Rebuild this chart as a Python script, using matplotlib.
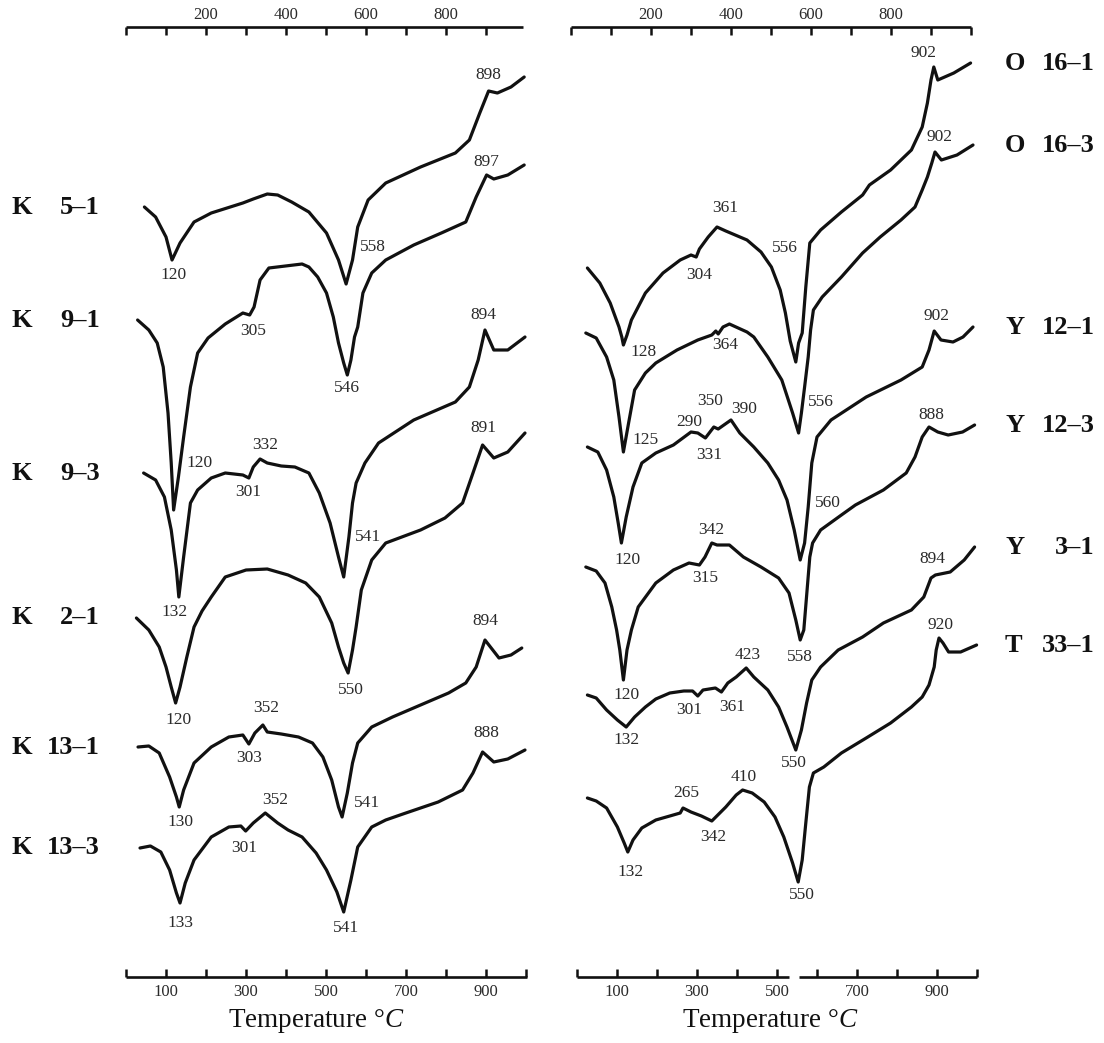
import matplotlib
matplotlib.use("Agg")
import matplotlib.pyplot as plt
from matplotlib.transforms import blended_transform_factory

plt.rcParams['font.family'] = ['Liberation Serif', 'DejaVu Serif']
plt.rcParams['mathtext.fontset'] = 'custom'
plt.rcParams['mathtext.rm'] = 'Liberation Serif'
plt.rcParams['mathtext.it'] = 'Liberation Serif:italic'

# ---------------- data (temperature in deg C, DTA signal in arbitrary units) ----------------
left_letters = ["K", "K", "K", "K", "K", "K"]
left_numbers = ["5–1", "9–1", "9–3", "2–1", "13–1", "13–3"]
right_letters = ["O", "O", "Y", "Y", "Y", "T"]
right_numbers = ["16–1", "16–3", "12–1", "12–3", "3–1", "33–1"]

K51_T = [46, 74, 100, 115, 135, 170, 213, 292, 318, 353, 379, 414, 457, 501, 531, 550, 566, 579, 605, 649, 736, 823, 858, 884, 906, 928, 962, 995]
K51_S = [770, 760, 740, 717, 734, 755, 764, 774, 778, 783, 782, 775, 765, 744, 717, 693, 717, 750, 777, 794, 810, 824, 837, 864, 886, 884, 890, 900]

K91_T = [29, 57, 78, 93, 105, 113, 119, 131, 144, 161, 179, 205, 248, 292, 309, 320, 335, 357, 440, 457, 479, 501, 518, 531, 544, 553, 562, 571, 579, 592, 614, 649, 719, 788, 849, 875, 901, 919, 954, 995]
K91_S = [657, 647, 634, 610, 564, 514, 467, 500, 540, 590, 624, 639, 653, 664, 662, 670, 697, 709, 713, 710, 700, 684, 660, 634, 614, 602, 617, 640, 650, 684, 704, 717, 732, 744, 755, 780, 802, 798, 802, 812]

K93_T = [44, 74, 96, 113, 126, 132, 144, 161, 179, 213, 248, 292, 307, 318, 335, 353, 388, 422, 457, 483, 510, 531, 544, 557, 566, 575, 597, 631, 719, 823, 858, 880, 897, 919, 954, 997]
K93_S = [504, 497, 480, 447, 407, 380, 420, 474, 487, 499, 504, 502, 499, 510, 518, 514, 511, 510, 504, 484, 454, 420, 400, 440, 474, 494, 514, 534, 557, 575, 590, 617, 647, 627, 627, 640]

K21_T = [26, 57, 83, 100, 113, 124, 135, 152, 170, 190, 213, 248, 300, 353, 405, 449, 483, 514, 531, 544, 555, 566, 575, 588, 614, 649, 736, 797, 841, 867, 891, 919, 954, 997]
K21_S = [359, 347, 330, 310, 290, 274, 290, 320, 350, 366, 380, 400, 407, 408, 402, 394, 380, 354, 330, 314, 304, 327, 350, 387, 417, 434, 447, 459, 474, 504, 532, 519, 525, 544]

K131_T = [30, 57, 83, 109, 126, 133, 144, 170, 213, 257, 292, 307, 322, 342, 353, 388, 431, 466, 492, 514, 531, 540, 553, 566, 579, 614, 666, 736, 806, 849, 875, 897, 932, 962, 989]
K131_S = [230, 231, 224, 200, 180, 170, 187, 214, 230, 240, 242, 233, 244, 252, 245, 243, 240, 234, 220, 197, 170, 160, 184, 214, 234, 250, 260, 272, 284, 294, 310, 337, 319, 322, 329]

K133_T = [35, 61, 87, 109, 126, 135, 148, 170, 213, 257, 287, 299, 318, 348, 379, 405, 440, 475, 501, 527, 544, 562, 579, 614, 649, 692, 780, 841, 867, 891, 919, 954, 997]
K133_S = [129, 131, 125, 107, 84, 74, 94, 117, 140, 150, 151, 146, 154, 164, 154, 147, 140, 124, 107, 85, 65, 97, 130, 150, 157, 163, 175, 187, 204, 225, 215, 218, 227]

O161_T = [41, 72, 98, 120, 127, 131, 140, 151, 186, 230, 273, 300, 313, 321, 343, 365, 387, 440, 475, 501, 523, 536, 548, 562, 569, 578, 587, 597, 624, 676, 729, 746, 799, 851, 878, 891, 900, 907, 917, 957, 999]
O161_S = [709, 694, 674, 650, 640, 632, 642, 657, 684, 704, 717, 722, 720, 728, 740, 750, 746, 737, 725, 710, 687, 664, 636, 615, 634, 644, 690, 734, 747, 765, 782, 792, 807, 827, 850, 874, 897, 910, 897, 904, 914]

O163_T = [37, 63, 89, 107, 120, 131, 144, 159, 186, 212, 265, 317, 352, 362, 368, 380, 396, 440, 457, 492, 527, 554, 569, 576, 584, 593, 599, 606, 628, 676, 729, 773, 825, 860, 878, 891, 902, 910, 926, 965, 1005]
O163_S = [644, 639, 620, 597, 560, 525, 554, 587, 604, 614, 627, 637, 642, 646, 643, 650, 653, 645, 640, 620, 597, 564, 544, 564, 590, 620, 647, 667, 680, 700, 724, 740, 757, 770, 787, 800, 814, 825, 817, 822, 832]

Y121_T = [41, 67, 89, 107, 118, 126, 138, 155, 177, 212, 256, 300, 317, 336, 357, 368, 400, 422, 457, 492, 519, 540, 558, 573, 584, 593, 602, 615, 650, 738, 825, 878, 895, 908, 925, 955, 980, 1005]
Y121_S = [530, 525, 507, 480, 454, 434, 460, 490, 514, 524, 532, 545, 544, 539, 550, 548, 557, 544, 530, 514, 497, 477, 447, 417, 434, 470, 514, 540, 557, 580, 597, 610, 627, 646, 637, 635, 640, 650]

Y123_T = [37, 63, 85, 102, 114, 122, 131, 140, 151, 168, 212, 256, 295, 321, 335, 352, 365, 396, 431, 475, 519, 545, 562, 573, 582, 597, 604, 624, 676, 711, 781, 838, 860, 878, 895, 917, 943, 979, 1009]
Y123_S = [410, 406, 394, 370, 347, 327, 297, 327, 347, 370, 394, 407, 414, 412, 420, 434, 432, 432, 420, 410, 399, 384, 357, 337, 347, 420, 434, 447, 462, 472, 487, 504, 520, 540, 550, 545, 542, 545, 552]

Y31_T = [41, 63, 89, 116, 138, 159, 186, 212, 247, 282, 304, 317, 330, 361, 376, 392, 413, 438, 457, 492, 519, 540, 562, 576, 589, 602, 624, 668, 729, 781, 851, 882, 900, 911, 948, 983, 1009]
Y31_S = [282, 279, 267, 257, 250, 260, 270, 278, 284, 286, 286, 281, 287, 289, 285, 294, 300, 309, 300, 287, 270, 250, 227, 247, 274, 297, 310, 327, 340, 354, 367, 380, 399, 402, 405, 417, 430]

T331_T = [41, 63, 89, 116, 133, 142, 155, 177, 212, 247, 273, 280, 300, 326, 352, 387, 413, 429, 453, 483, 510, 532, 554, 568, 578, 587, 596, 606, 632, 676, 738, 799, 851, 878, 895, 908, 913, 920, 930, 944, 974, 1014]
T331_S = [179, 176, 169, 150, 134, 125, 137, 149, 157, 161, 164, 169, 165, 161, 156, 170, 182, 187, 184, 175, 160, 140, 114, 95, 117, 154, 190, 204, 210, 224, 239, 254, 270, 280, 292, 310, 327, 339, 334, 325, 325, 332]

left_curves = [(K51_T, K51_S), (K91_T, K91_S), (K93_T, K93_S),
               (K21_T, K21_S), (K131_T, K131_S), (K133_T, K133_S)]
right_curves = [(O161_T, O161_S), (O163_T, O163_S), (Y121_T, Y121_S),
                (Y123_T, Y123_S), (Y31_T, Y31_S), (T331_T, T331_S)]

# peak annotations: (label, temperature, signal)
left_peaks = [
    ("120", 118, 702), ("558", 618, 730), ("898", 906, 902),
    ("305", 318, 646), ("120", 183, 514), ("546", 553, 589), ("897", 901, 815),
    ("132", 122, 365), ("301", 305, 485), ("332", 348, 532), ("541", 604, 440), ("894", 893, 662),
    ("120", 131, 257), ("550", 562, 287), ("891", 893, 549),
    ("130", 135, 155), ("303", 307, 219), ("352", 351, 269), ("541", 601, 174), ("894", 897, 356),
    ("133", 135, 54), ("301", 296, 129), ("352", 372, 177), ("541", 549, 49), ("888", 901, 244),
]
right_peaks = [
    ("128", 181, 625), ("304", 321, 702), ("361", 385, 769), ("556", 534, 729), ("902", 882, 924),
    ("125", 186, 537), ("364", 385, 632), ("556", 624, 575), ("902", 922, 840),
    ("120", 142, 417), ("290", 295, 555), ("331", 345, 522), ("350", 348, 576), ("390", 434, 568),
    ("560", 641, 474), ("902", 913, 661),
    ("120", 138, 282), ("315", 335, 399), ("342", 350, 447), ("558", 571, 320), ("888", 900, 562),
    ("132", 138, 237), ("301", 295, 267), ("361", 403, 270), ("423", 442, 322), ("550", 556, 214),
    ("894", 904, 418),
    ("132", 148, 105), ("265", 289, 184), ("342", 355, 140), ("410", 431, 200), ("550", 578, 82),
    ("920", 923, 352),
]

all_ticks = [0, 100, 200, 300, 400, 500, 600, 700, 800, 900, 1000]
top_labels = [200, 400, 600, 800]
bottom_labels = [100, 300, 500, 700, 900]

# ---------------- figure ----------------
W, H = 1104, 1043
INK = "#111111"
NUM = "#2a2a2a"
fig = plt.figure(figsize=(W / 100, H / 100), dpi=100)
fig.patch.set_facecolor("white")

def fx(px):
    return px / W

bot = (H - 977) / H
hgt = 950 / H


def make_axis(x0_px, w_px, xmax, where, ticks, labeled, segments):
    a = fig.add_axes([fx(x0_px), bot, fx(w_px), hgt])
    a.set_xlim(0, xmax)
    a.set_ylim(0, 950)
    a.patch.set_visible(False)
    for s in a.spines.values():
        s.set_visible(False)
    a.yaxis.set_visible(False)
    yv = 950 if where == "top" else 0
    for s0, s1 in segments:
        a.plot([s0, s1], [yv, yv], color=INK, lw=1.9, solid_capstyle="butt", clip_on=False)
    a.xaxis.set_ticks_position(where)
    a.set_xticks(ticks)
    a.set_xticklabels([str(t) if t in labeled else "" for t in ticks])
    a.tick_params(axis="x", direction="in", length=6, width=1.8, color=INK,
                  pad=3 if where == "top" else 5, labelsize=12, labelcolor=NUM)
    return a


# left panel
axL = make_axis(126, 401, 1002, "bottom", all_ticks, bottom_labels, [(0, 1002)])
make_axis(126, 401, 1002, "top", all_ticks[:-1], top_labels, [(0, 992)])
# right panel
axR = make_axis(571, 400, 1000, "top", all_ticks, top_labels, [(0, 1000)])
make_axis(577, 400, 1000, "bottom", all_ticks, bottom_labels, [(0, 530), (555, 1000)])

for ax, curves, peaks in ((axL, left_curves, left_peaks), (axR, right_curves, right_peaks)):
    for T, S in curves:
        ax.plot(T, S, color=INK, lw=2.3, solid_joinstyle="round", solid_capstyle="round",
                clip_on=False)
    for txt, t, s in peaks:
        ax.text(t, s, txt, ha="center", va="center", fontsize=12.5, color=NUM)

# sample labels
trL = blended_transform_factory(fig.transFigure, axL.transData)
for let, num, (T, S) in zip(left_letters, left_numbers, left_curves):
    fig.text(fx(12), S[0], let, transform=trL, ha="left", va="center",
             fontsize=19, fontweight="bold", color=INK)
    fig.text(fx(100), S[0], num, transform=trL, ha="right", va="center",
             fontsize=19, fontweight="bold", color=INK)

trR = blended_transform_factory(fig.transFigure, axR.transData)
for let, num, (T, S) in zip(right_letters, right_numbers, right_curves):
    fig.text(fx(1005), S[-1], let, transform=trR, ha="left", va="center",
             fontsize=19, fontweight="bold", color=INK)
    fig.text(fx(1095), S[-1], num, transform=trR, ha="right", va="center",
             fontsize=19, fontweight="bold", color=INK)

# axis titles
for xc in (316, 770):
    fig.text(fx(xc), (H - 1021) / H, "Temperature °$C$", ha="center", va="center",
             fontsize=19.5, color=INK)

fig.savefig("out.png", dpi=100, facecolor="white")
